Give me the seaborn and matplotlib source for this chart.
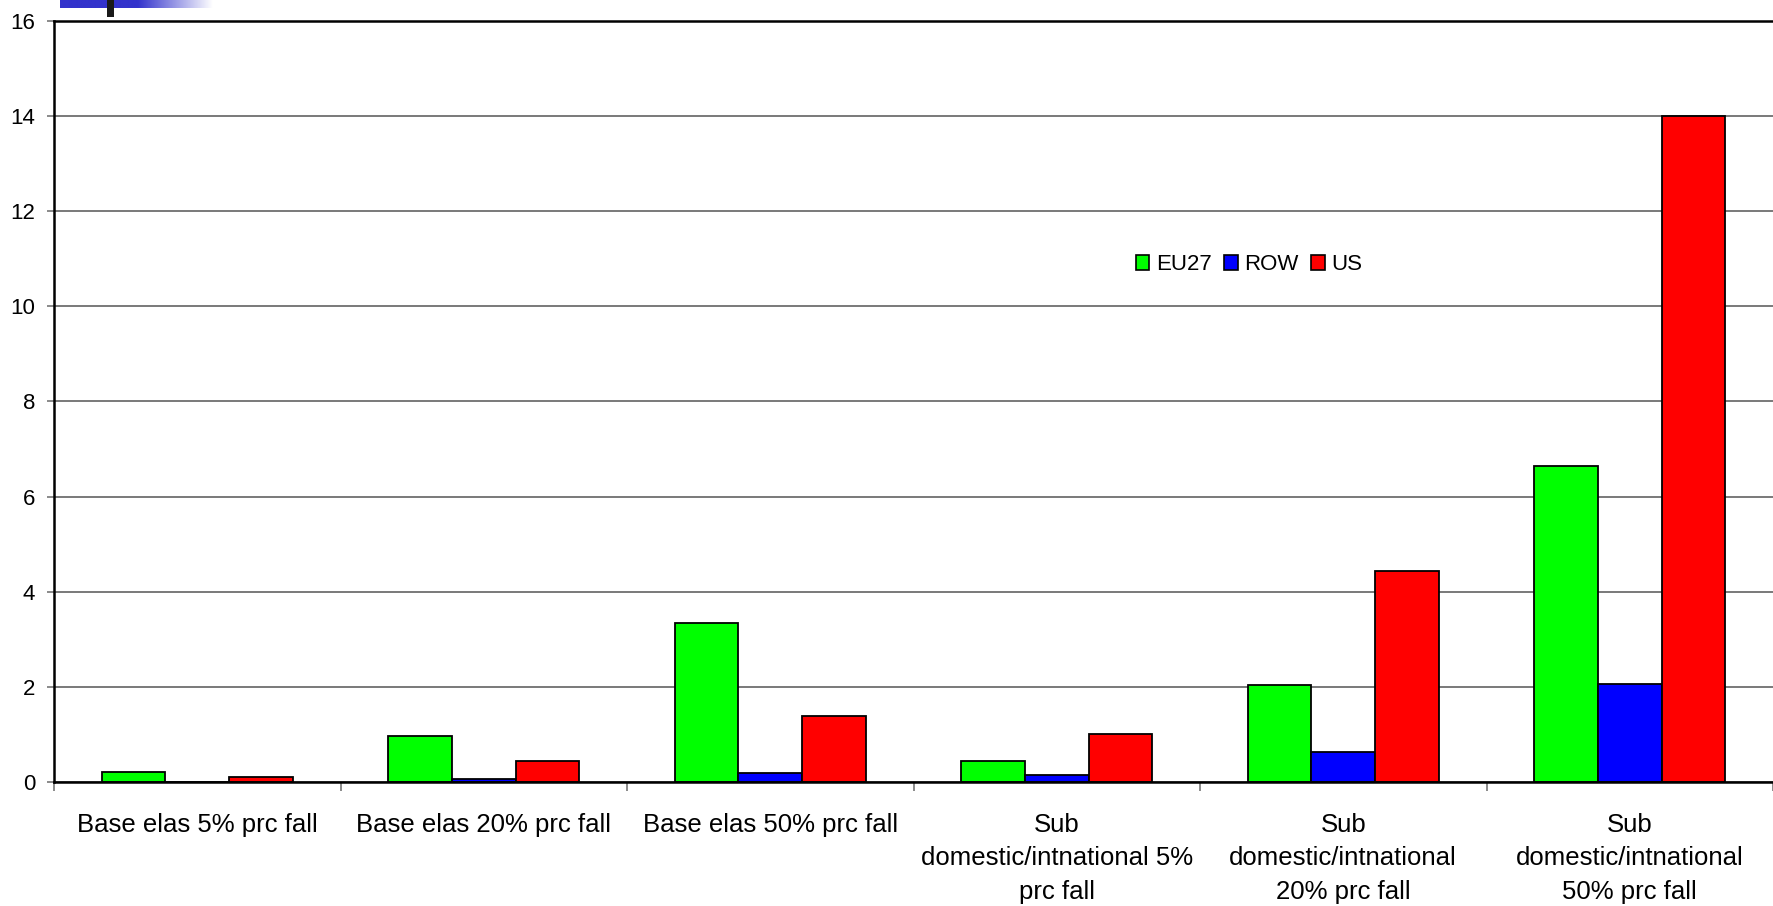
import numpy as np
import pandas as pd
import matplotlib
matplotlib.use("Agg")
import matplotlib.pyplot as plt
from matplotlib.patches import Rectangle
import seaborn as sns

# Scenario labels and results per region
scenarios = [
    "Base elas 5% prc fall",
    "Base elas 20% prc fall",
    "Base elas 50% prc fall",
    "Sub\ndomestic/intnational 5%\nprc fall",
    "Sub\ndomestic/intnational\n20% prc fall",
    "Sub\ndomestic/intnational\n50% prc fall",
]
regions = ["EU27", "ROW", "US"]
eu27 = [0.22, 0.97, 3.34, 0.44, 2.03, 6.64]
row = [0.0, 0.07, 0.18, 0.15, 0.64, 2.07]
us = [0.11, 0.45, 1.39, 1.01, 4.43, 14.0]
region_colors = ["#00FF00", "#0000FF", "#FF0000"]
y_ticks = [0, 2, 4, 6, 8, 10, 12, 14, 16]

df = pd.DataFrame({
    "scenario": np.repeat(scenarios, len(regions)),
    "region": regions * len(scenarios),
    "value": [v for trio in zip(eu27, row, us) for v in trio],
})

sns.set_theme(style="white")
plt.rcParams["font.family"] = ["Liberation Sans", "DejaVu Sans"]
plt.rcParams["text.color"] = "black"
plt.rcParams["xtick.color"] = "black"
plt.rcParams["ytick.color"] = "black"

W, H = 1773, 906
fig = plt.figure(figsize=(W / 100, H / 100), dpi=100)
ax = fig.add_axes([54 / W, 1 - 782 / H, 1 - 54 / W, (782 - 20.7) / H])

sns.barplot(
    data=df, x="scenario", y="value", hue="region",
    order=scenarios, hue_order=regions, palette=region_colors,
    width=2 / 3, saturation=1, edgecolor="black", linewidth=1.3,
    ax=ax, zorder=3,
)

ax.set_xlim(-0.5, len(scenarios) - 0.5)
ax.set_ylim(0, 16)
ax.set_yticks(y_ticks)
ax.set_yticklabels([str(t) for t in y_ticks], fontsize=16)
ax.set_xlabel("")
ax.set_ylabel("")
ax.tick_params(axis="x", which="major", length=0, pad=22, labelsize=18.5,
               labelcolor="black")
ax.set_xticks(np.arange(len(scenarios) + 1) - 0.5, minor=True)
ax.tick_params(axis="x", which="minor", length=6.5, width=1.2, color="#777777",
               bottom=True)
ax.tick_params(axis="y", length=5, width=1.2, color="#777777", pad=8.5, left=True,
               labelcolor="black")
for lbl in ax.get_xticklabels():
    lbl.set_linespacing(1.52)

ax.yaxis.grid(True, color="#6e6e6e", linewidth=1.3, zorder=0)
ax.set_axisbelow(True)
for side in ("left", "bottom", "top"):
    ax.spines[side].set_visible(True)
    ax.spines[side].set_color("black")
    ax.spines[side].set_linewidth(1.8)
ax.spines["right"].set_visible(False)
ax.spines["bottom"].set_zorder(5)

handles = [Rectangle((0, 0), 1, 1, facecolor=c, edgecolor="black", linewidth=1.2)
           for c in region_colors]
ax.legend(handles, regions, loc="center",
          bbox_to_anchor=((1249 - 54) / (W - 54), (782 - 265) / (782 - 20.7)),
          ncol=3, frameon=False, fontsize=16, handlelength=0.62, handleheight=0.62,
          handletextpad=0.3, columnspacing=0.55, borderpad=0, labelcolor="black")

# Title-bar ornament in the upper-left corner
bar_ax = fig.add_axes([60 / W, 1 - 8 / H, (213 - 60) / W, 8 / H])
n = 300
fade = np.ones(n)
start = int(n * (138 - 60) / (213 - 60))
fade[start:] = np.linspace(1, 0, n - start)
base = np.array([0.2, 0.2, 0.8])
rgb = base[None, :] * fade[:, None] + (1 - fade[:, None])
bar_ax.imshow(rgb[None, :, :], aspect="auto", extent=(0, 1, 0, 1))
bar_ax.axis("off")
fig.patches.append(Rectangle((107 / W, 1 - 17 / H), 7 / W, 17 / H,
                             transform=fig.transFigure, facecolor="#1a1a1a",
                             edgecolor="none", zorder=10))

fig.savefig("out.png", dpi=100)
